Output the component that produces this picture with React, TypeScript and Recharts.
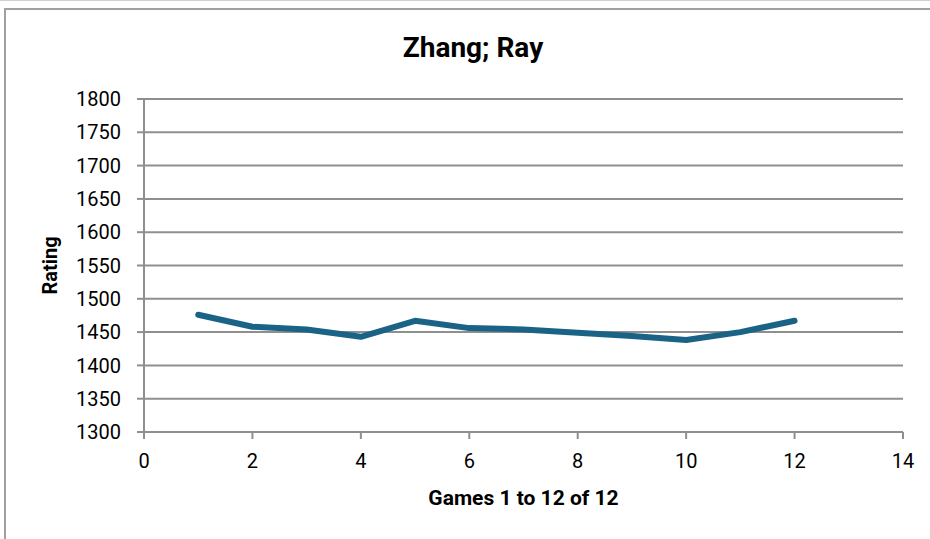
import { CartesianGrid, Line, LineChart, XAxis, YAxis } from 'recharts'

const games = [1, 2, 3, 4, 5, 6, 7, 8, 9, 10, 11, 12]
const ratings = [1476, 1458, 1454, 1443, 1467, 1456, 1454, 1449, 1444, 1438, 1450, 1467]
const yTicks = [1300, 1350, 1400, 1450, 1500, 1550, 1600, 1650, 1700, 1750, 1800]
const xTicks = [0, 2, 4, 6, 8, 10, 12, 14]

const FONT = 'Roboto, "Liberation Sans", sans-serif'
const GRID = '#8f8f8f'
const LINE = '#1a6386'

const data = games.map((game, i) => ({ game, rating: ratings[i] }))

function YLabel({ viewBox }: any) {
  const cy = viewBox.y + viewBox.height / 2
  return (
    <text
      x={50}
      y={cy}
      transform={`rotate(-90, 50, ${cy})`}
      textAnchor="middle"
      dominantBaseline="central"
      fontFamily={FONT}
      fontWeight={700}
      fontSize={20}
      fill="#000"
    >
      Rating
    </text>
  )
}

function XLabel({ viewBox }: any) {
  const cx = viewBox.x + viewBox.width / 2
  return (
    <text
      x={cx}
      y={498}
      textAnchor="middle"
      dominantBaseline="central"
      fontFamily={FONT}
      fontWeight={700}
      fontSize={21}
      fill="#000"
    >
      Games 1 to 12 of 12
    </text>
  )
}

export default function App() {
  return (
    <div style={{ position: 'absolute', left: 0, top: 0, width: 930, height: 539, background: '#fff', overflow: 'hidden' }}>
      <div style={{ position: 'absolute', left: 0, top: 0, width: 930, height: 1, background: '#cfcfcf' }} />
      <div style={{ position: 'absolute', left: 4, top: 8, width: 926, height: 2, background: '#a0a0a0' }} />
      <div style={{ position: 'absolute', left: 4, top: 8, width: 2, height: 531, background: '#a0a0a0' }} />
      <div
        style={{
          position: 'absolute',
          left: 273,
          width: 400,
          top: 30,
          textAlign: 'center',
          fontFamily: FONT,
          fontWeight: 700,
          fontSize: 28,
          lineHeight: '36px',
          color: '#000',
        }}
      >
        Zhang; Ray
      </div>
      <LineChart
        width={930}
        height={539}
        data={data}
        margin={{ top: 99, right: 27, bottom: 0, left: 0 }}
        style={{ position: 'absolute', left: 0, top: 0 }}
      >
        <CartesianGrid vertical={false} stroke={GRID} strokeWidth={2} />
        <XAxis
          dataKey="game"
          type="number"
          domain={[0, 14]}
          ticks={xTicks}
          height={107}
          axisLine={{ stroke: GRID, strokeWidth: 2 }}
          tickLine={{ stroke: GRID, strokeWidth: 2 }}
          tickSize={7}
          tickMargin={15}
          tick={{ fontFamily: FONT, fontSize: 20, fill: '#000' }}
          label={<XLabel />}
        />
        <YAxis
          type="number"
          domain={[1300, 1800]}
          ticks={yTicks}
          width={144}
          axisLine={{ stroke: GRID, strokeWidth: 2 }}
          tickLine={{ stroke: GRID, strokeWidth: 2 }}
          tickSize={7}
          tickMargin={16}
          tick={{ fontFamily: FONT, fontSize: 20, fill: '#000' }}
          label={<YLabel />}
        />
        <Line
          dataKey="rating"
          stroke={LINE}
          strokeWidth={6}
          strokeLinecap="round"
          strokeLinejoin="round"
          dot={false}
          isAnimationActive={false}
        />
      </LineChart>
    </div>
  )
}
